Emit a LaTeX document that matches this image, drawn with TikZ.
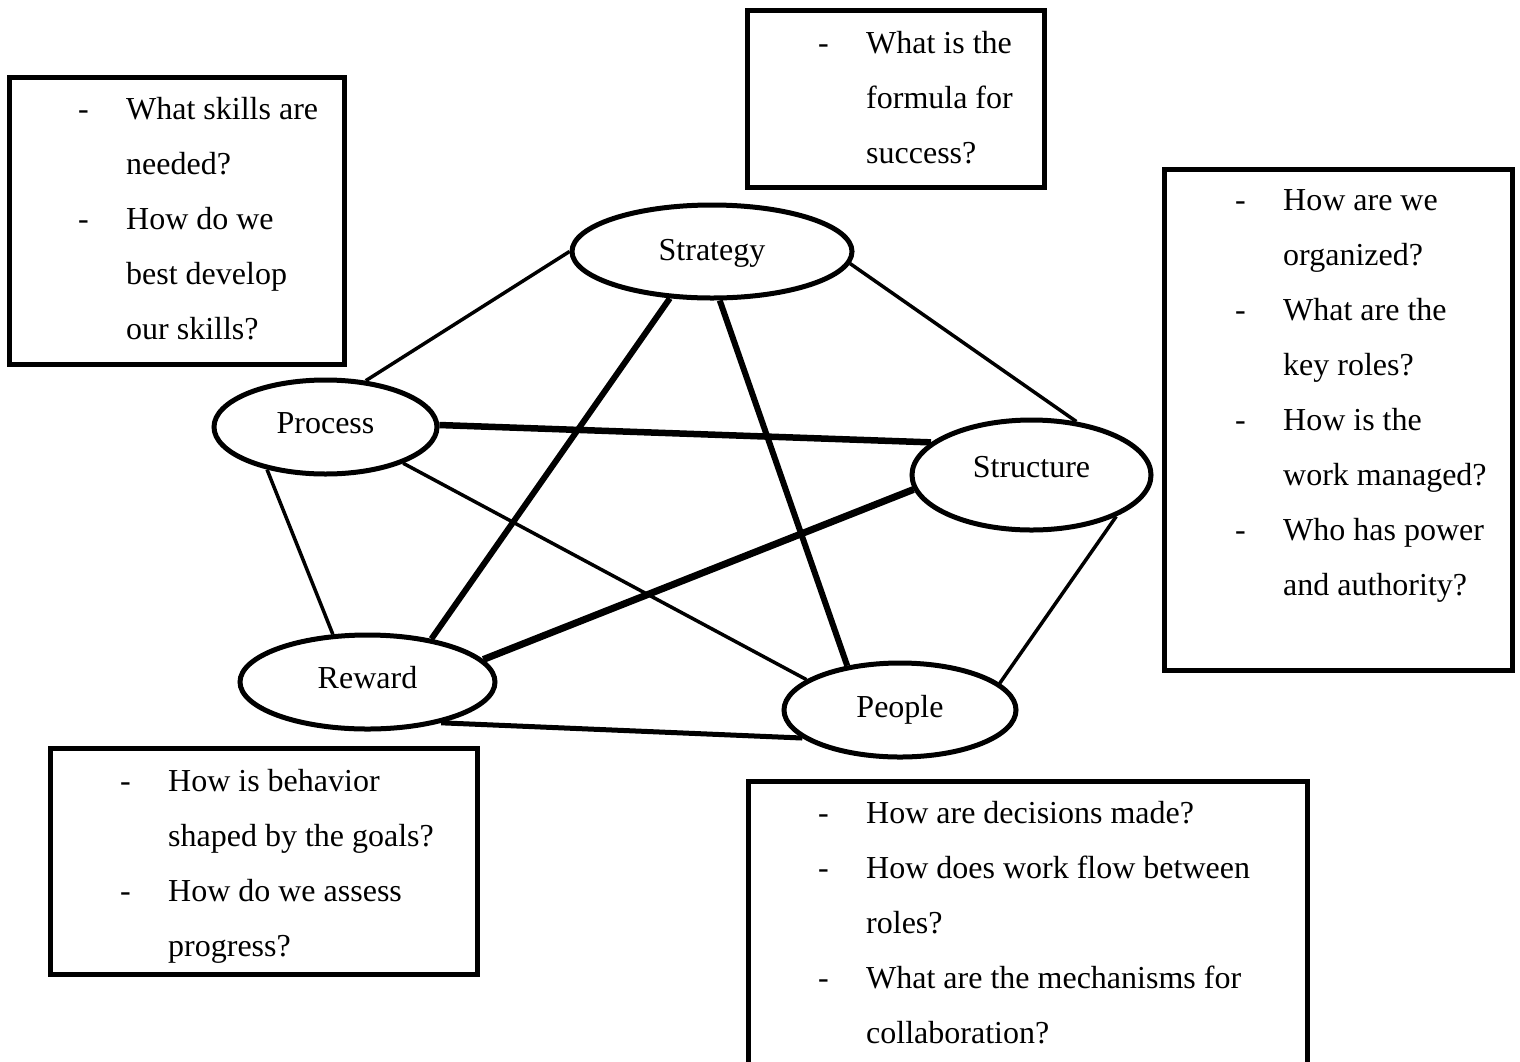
\documentclass[tikz,border=0pt]{standalone}
\usepackage{fontspec}
\setmainfont{Liberation Serif}
\usetikzlibrary{shapes.geometric,backgrounds}
\begin{document}
\begin{tikzpicture}[x=1pt,y=-1pt,
  ell/.style={ellipse,draw,line width=5pt,fill=white,inner sep=0pt,
    font=\fontsize{32}{38}\selectfont,text height=22pt,text depth=10pt},
  qbox/.style={draw,line width=5pt,rectangle,anchor=north west,outer sep=0pt,inner sep=0pt},
  qtext/.style={anchor=base west,inner sep=0pt,font=\fontsize{32}{55}\selectfont},
  lnthin/.style={line width=3.5pt},
  lnthick/.style={line width=6pt}]
\useasboundingbox (0,0) rectangle (1520,1061);

% question boxes
\node[qbox,minimum width=335pt,minimum height=287pt] (boxskills) at (9.5,77.5) {};
\node[qtext] (txtskills) at (78,119) {\begin{tabular}[t]{@{}p{48pt}@{}l@{}}
-&What skills are\\&needed?\\-&How do we\\&best develop\\&our skills?\end{tabular}};

\node[qbox,minimum width=297pt,minimum height=177pt] (boxstrategy) at (747.5,10.5) {};
\node[qtext] (txtstrategy) at (818,53) {\begin{tabular}[t]{@{}p{48pt}@{}l@{}}
-&What is the\\&formula for\\&success?\end{tabular}};

\node[qbox,minimum width=348.5pt,minimum height=501pt] (boxstructure) at (1164,169.5) {};
\node[qtext] (txtstructure) at (1235,210) {\begin{tabular}[t]{@{}p{48pt}@{}l@{}}
-&How are we\\&organized?\\-&What are the\\&key roles?\\-&How is the\\&work managed?\\-&Who has power\\&and authority?\end{tabular}};

\node[qbox,minimum width=427pt,minimum height=226pt] (boxreward) at (50.5,748.5) {};
\node[qtext] (txtreward) at (120,791) {\begin{tabular}[t]{@{}p{48pt}@{}l@{}}
-&How is behavior\\&shaped by the goals?\\-&How do we assess\\&progress?\end{tabular}};

\node[qbox,minimum width=559pt,minimum height=320pt] (boxpeople) at (748,781) {};
\node[qtext] (txtpeople) at (818,823) {\begin{tabular}[t]{@{}p{48pt}@{}l@{}}
-&How are decisions made?\\-&How does work flow between\\&roles?\\-&What are the mechanisms for\\&collaboration?\end{tabular}};

% ellipses
\node[ell,minimum width=280pt,minimum height=93pt,text height=24pt,text depth=7pt] (strategy) at (712,251.5) {Strategy};
\node[ell,minimum width=223pt,minimum height=94pt] (process) at (325.5,427) {Process};
\node[ell,minimum width=239pt,minimum height=110pt,text height=18pt,text depth=14pt] (structure) at (1031.5,475) {Structure};
\node[ell,minimum width=255pt,minimum height=94pt] (reward) at (367.5,682) {Reward};
\node[ell,minimum width=232pt,minimum height=94pt,text height=22pt,text depth=8pt] (people) at (900,710) {People};

% connectors
\begin{scope}[on background layer]
\fill[white] (0,0) rectangle (1520,1061);
\draw[lnthin] (strategy.180) -- (process.49);
\draw[lnthin] (strategy.355) -- (structure.50);
\draw[lnthick] (strategy.228) -- (reward.34);
\draw[lnthick] (strategy.279) -- (people.140);
\draw[line width=6.5pt] (process.1) -- (structure.162);
\draw[lnthin] (process.335) -- (people.162);
\draw[lnthin] (process.216) -- (reward.126);
\draw[line width=7pt] (structure.187) -- (reward.11);
\draw[lnthin] (structure.334) -- (people.15);
\draw[line width=5pt] (reward.331) -- (people.196);
\end{scope}
\end{tikzpicture}
\end{document}
